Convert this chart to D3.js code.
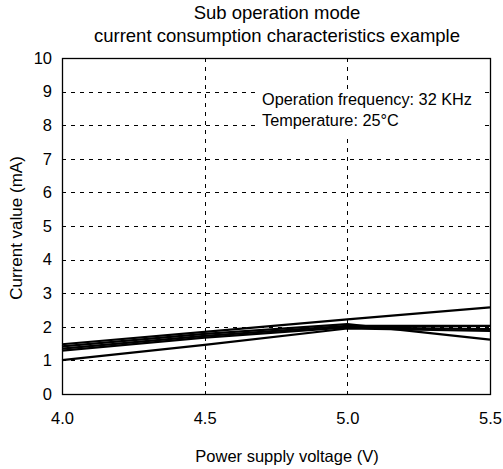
<!DOCTYPE html>
<html>
<head>
<meta charset="utf-8">
<script src="https://cdn.jsdelivr.net/npm/d3@7"></script>
<style>
  html, body { margin: 0; padding: 0; background: #fff; }
  text { font-family: "Liberation Sans", Arial, sans-serif; fill: #000; }
</style>
</head>
<body>
<svg id="chart" width="503" height="469"></svg>
<script>
// Supply voltage sample points (V)
const voltages = [4.0, 4.5, 5.0, 5.5];
// Measured current per sample (mA), one array per device
const seriesA = [1.48, 1.85, 2.22, 2.58];
const seriesB = [1.42, 1.79, 2.08, 1.62];
const seriesC = [1.35, 1.73, 2.03, 2.03];
const seriesD = [1.29, 1.68, 1.98, 1.93];
const seriesE = [1.01, 1.46, 1.95, 1.88];
const allSeries = [seriesA, seriesB, seriesC, seriesD, seriesE];

const xTicks = [4.0, 4.5, 5.0, 5.5];
const yTicks = [0, 1, 2, 3, 4, 5, 6, 7, 8, 9, 10];
const titleLines = ["Sub operation mode", "current consumption characteristics example"];
const noteLines = ["Operation frequency: 32 KHz", "Temperature: 25°C"];

const svg = d3.select("#chart");
const m = { left: 62, right: 490, top: 58, bottom: 394 };
const font = "Liberation Sans, Arial, sans-serif";

const x = d3.scaleLinear().domain([4.0, 5.5]).range([m.left, m.right]);
const y = d3.scaleLinear().domain([0, 10]).range([m.bottom, m.top]);

// Dashed grid
const grid = svg.append("g").attr("stroke", "#000").attr("stroke-width", 1)
  .attr("stroke-dasharray", "4,5").attr("shape-rendering", "crispEdges");
grid.selectAll("line.h").data(yTicks.filter(d => d > 0 && d < 10)).join("line")
  .attr("x1", m.left).attr("x2", m.right)
  .attr("y1", d => Math.round(y(d)) + 0.5).attr("y2", d => Math.round(y(d)) + 0.5);
grid.selectAll("line.v").data(xTicks.slice(1, -1)).join("line")
  .attr("y1", m.top).attr("y2", m.bottom)
  .attr("x1", d => Math.round(x(d)) + 0.5).attr("x2", d => Math.round(x(d)) + 0.5);

// Axes (labels only, frame drawn separately)
const yAxis = d3.axisLeft(y).tickValues(yTicks).tickSize(0).tickPadding(10)
  .tickFormat(d3.format("d"));
const yg = svg.append("g").attr("transform", `translate(${m.left},0)`).call(yAxis);
yg.select(".domain").remove();
yg.selectAll("text").style("font-size", "16.5px").style("font-family", font);

const xAxis = d3.axisBottom(x).tickValues(xTicks).tickSize(0).tickPadding(18)
  .tickFormat(d3.format(".1f"));
const xg = svg.append("g").attr("transform", `translate(0,${m.bottom})`).call(xAxis);
xg.select(".domain").remove();
xg.selectAll("text").style("font-size", "16.5px").style("font-family", font);

// Condition note on a white backing box that masks the grid
svg.append("rect").attr("x", 257).attr("y", 89).attr("width", 228).attr("height", 45)
  .attr("fill", "#fff");
svg.append("g").selectAll("text").data(noteLines).join("text")
  .attr("x", 262).attr("y", (d, i) => 105 + i * 21)
  .style("font-size", "16.3px").text(d => d);

// Frame
svg.append("rect")
  .attr("x", m.left + 0.5).attr("y", m.top + 0.5)
  .attr("width", m.right - m.left).attr("height", m.bottom - m.top)
  .attr("fill", "none").attr("stroke", "#000").attr("stroke-width", 1.3);

// Data lines
const line = d3.line().x((d, i) => x(voltages[i])).y(d => y(d));
svg.append("g").selectAll("path").data(allSeries).join("path")
  .attr("d", line).attr("fill", "none").attr("stroke", "#000").attr("stroke-width", 2.2);

// Title
svg.append("g").selectAll("text").data(titleLines).join("text")
  .attr("x", 277).attr("y", (d, i) => 19 + i * 23)
  .attr("text-anchor", "middle").style("font-size", "18.5px").text(d => d);

// Axis titles
svg.append("text").attr("x", 287).attr("y", 462).attr("text-anchor", "middle")
  .style("font-size", "16.5px").text("Power supply voltage (V)");
svg.append("text").attr("transform", `translate(22,${(m.top + m.bottom) / 2 + 2}) rotate(-90)`)
  .attr("text-anchor", "middle").style("font-size", "17px").text("Current value (mA)");
</script>
</body>
</html>
